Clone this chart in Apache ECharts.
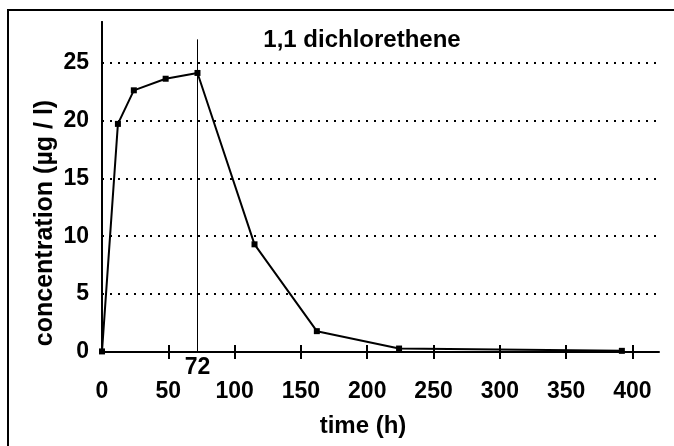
<!DOCTYPE html>
<html>
<head>
<meta charset="utf-8">
<script src="https://cdn.jsdelivr.net/npm/echarts@6/dist/echarts.min.js"></script>
<style>
  html, body { margin: 0; padding: 0; background: #fff; }
  #chart { width: 674px; height: 446px; }
</style>
</head>
<body>
<div id="chart"></div>
<script>
// data
var times = [0, 12, 24, 48, 72, 115, 162, 224, 392];
var conc = [0.05, 19.7, 22.6, 23.6, 24.1, 9.3, 1.8, 0.3, 0.1];
var xTickLabels = [0, 50, 100, 150, 200, 250, 300, 350, 400];
var xTickMarks = [50, 100, 150, 200, 250, 300, 350, 400];
var yTickLabels = [0, 5, 10, 15, 20, 25];
var gridLines = [5, 10, 15, 20, 25];
var switchTime = 72;

var font = '"Liberation Sans", Arial, sans-serif';

var chart = echarts.init(document.getElementById('chart'), null, { renderer: 'canvas' });

var points = [];
for (var i = 0; i < times.length; i++) {
    points.push([times[i], conc[i]]);
}

var markData = [];
gridLines.forEach(function (v) {
    markData.push({ yAxis: v });
});
// vertical line at 72 h with its label under the axis
markData.push([
    { coord: [switchTime, 0], label: { show: true, formatter: String(switchTime), position: 'start', distance: 4,
        color: '#000', fontSize: 23, fontWeight: 'bold', fontFamily: font },
      lineStyle: { type: 'solid', width: 1, color: '#000' } },
    { coord: [switchTime, 27] }
]);

var option = {
    animation: false,
    grid: { left: 102, right: 15, top: 22, bottom: 94 },
    xAxis: [
        {
            type: 'value', min: 0, max: 420, interval: 50,
            axisLine: { show: true, lineStyle: { color: '#000', width: 2 } },
            axisTick: { show: true, inside: true, length: 7, customValues: xTickMarks,
                lineStyle: { color: '#000', width: 2 } },
            axisLabel: { customValues: xTickLabels, margin: 28, color: '#000', fontSize: 23,
                fontWeight: 'bold', fontFamily: font },
            splitLine: { show: false }
        },
        {
            type: 'value', min: 0, max: 420, interval: 50, position: 'bottom',
            axisLine: { show: false },
            axisTick: { show: true, inside: false, length: 7, customValues: xTickMarks,
                lineStyle: { color: '#000', width: 2 } },
            axisLabel: { show: false },
            splitLine: { show: false }
        }
    ],
    yAxis: [
        {
            type: 'value', min: 0, max: 28.5, interval: 5,
            axisLine: { show: true, lineStyle: { color: '#000', width: 2 } },
            axisTick: { show: false },
            axisLabel: { customValues: yTickLabels, margin: 13, color: '#000', fontSize: 23,
                fontWeight: 'bold', fontFamily: font },
            splitLine: { show: false }
        },
        {
            type: 'value', min: 0, max: 28.5, position: 'right',
            axisLine: { show: true, lineStyle: { color: '#000', width: 2 } },
            axisTick: { show: false },
            axisLabel: { show: false },
            splitLine: { show: false }
        }
    ],
    series: [
        {
            type: 'line',
            data: points,
            symbol: 'rect',
            symbolSize: 6,
            itemStyle: { color: '#000' },
            lineStyle: { color: '#000', width: 2 },
            markLine: {
                silent: true,
                symbol: ['none', 'none'],
                label: { show: false },
                lineStyle: { type: [2, 6], width: 2, color: '#000' },
                data: markData
            },
            z: 3
        }
    ],
    graphic: [
        {
            type: 'rect', shape: { x: 8, y: 10, width: 700, height: 500 },
            style: { fill: 'none', stroke: '#000', lineWidth: 2 }, silent: true
        },
        {
            type: 'text', x: 362, y: 40,
            style: { text: '1,1 dichlorethene', fill: '#000', font: 'bold 24px ' + font,
                align: 'center', verticalAlign: 'middle' }
        },
        {
            type: 'text', x: 363, y: 426,
            style: { text: 'time (h)', fill: '#000', font: 'bold 24px ' + font,
                align: 'center', verticalAlign: 'middle' }
        },
        {
            type: 'text', x: 45, y: 223, rotation: Math.PI / 2,
            style: { text: 'concentration (µg / l)', fill: '#000', font: 'bold 25px ' + font,
                align: 'center', verticalAlign: 'middle' }
        }
    ]
};

chart.setOption(option);
</script>
</body>
</html>
